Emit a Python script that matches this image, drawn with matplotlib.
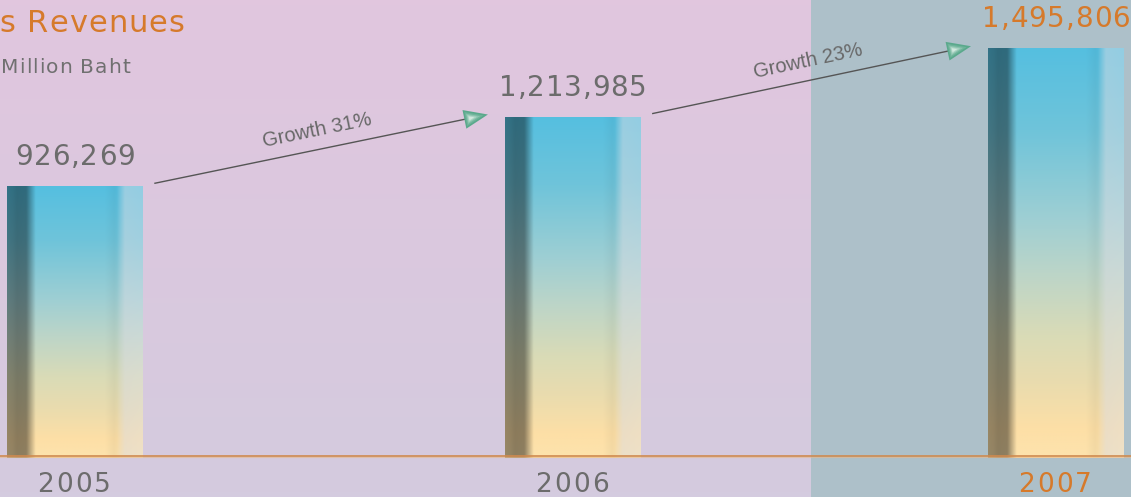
import numpy as np
import matplotlib
matplotlib.use("Agg")
from matplotlib import pyplot as plt
from matplotlib.colors import to_rgb
from matplotlib.lines import Line2D
from matplotlib.patches import Polygon
from matplotlib.transforms import IdentityTransform
from matplotlib.font_manager import findfont, FontProperties
from matplotlib.ft2font import FT2Font

# chart data
years = ["2005", "2006", "2007"]
revenues = [926269, 1213985, 1495806]
title = "s Revenues"
unit_label = "Million Baht"

# colours
bg_top = "#e1c6de"
bg_bottom = "#d4cbdf"
panel_colour = "#adc0c9"
orange = "#d67a2b"
grey_text = "#6c6c6c"
arrow_line = "#555555"
arrow_head = "#5aa98c"
baseline_colour = "#cf8a4f"

# layout
slot = np.array([0.0, 1.015, 2.0])
bar_width = 0.277
floor = -195000      # value the bars grow from
baseline = -186000
DPI = 100
ident = IdentityTransform()


def bar_gradient(nh=240, nw=140):
    # vertical colour profile, top to bottom
    stops = [0.0, 0.2, 0.42, 0.55, 0.7, 0.82, 0.93, 1.0]
    cols = ["#55bfe0", "#6fc4da", "#9fcfd3", "#bcd5c8", "#d9dbb7",
            "#eadcae", "#fddfa6", "#fde3ad"]
    cols = np.array([to_rgb(c) for c in cols])
    v = np.linspace(0, 1, nh)
    column = np.stack([np.interp(v, stops, cols[:, k]) for k in range(3)], axis=1)
    img = np.repeat(column[:, None, :], nw, axis=1)

    u = np.linspace(0, 1, nw)
    # dark strip on the left, faint shadow before the light strip
    shade = np.interp(u, [0, 0.04, 0.07, 0.14, 0.21, 0.72, 0.79, 0.83, 1.0],
                      [0.6, 0.58, 0.55, 0.56, 1.0, 1.0, 0.96, 0.98, 1.0])
    img = img * shade[None, :, None]
    # light strip on the right
    light = np.interp(u, [0, 0.81, 0.87, 1.0], [0, 0, 0.5, 0.45])
    grey = np.array(to_rgb("#dedfe6"))
    img = img * (1 - light[None, :, None]) + grey * light[None, :, None]
    return np.clip(img, 0, 1)


def spaced_text(x, y, s, size, colour, tracking, ha="left", family="DejaVu Sans"):
    # letter-spaced text, x/y in output pixels from bottom-left, y is the baseline
    font = FT2Font(findfont(FontProperties(family=family)))
    font.set_size(size, DPI)
    adv = [font.load_char(ord(c)).linearHoriAdvance / 65536 for c in s]
    width = sum(adv) + tracking * (len(s) - 1)
    if ha == "center":
        x -= width / 2
    elif ha == "right":
        x -= width
    for c, a in zip(s, adv):
        if c != " ":
            fig.text(x, y, c, transform=ident, fontsize=size, color=colour,
                     family=family, va="baseline", ha="left", zorder=5)
        x += a + tracking


fig = plt.figure(figsize=(11.31, 4.97), dpi=DPI)
ax = fig.add_axes([0, 0, 1, 1])
xlim = (-0.153, 2.153)
ylim = (-356000, 1694700)

# background
c0, c1 = np.array(to_rgb(bg_top)), np.array(to_rgb(bg_bottom))
t = np.linspace(0, 1, 100)[:, None]
bg = (c0 * (1 - t) + c1 * t)[:, None, :]
ax.imshow(bg, extent=[xlim[0], xlim[1], ylim[0], ylim[1]], aspect="auto", zorder=0)
ax.axvspan(1.5, xlim[1], color=panel_colour, lw=0, zorder=1)

ax.set_xlim(*xlim)
ax.set_ylim(*ylim)
ax.axis("off")

# bars, filled with the shaded image
heights = np.array(revenues) - floor
bars = ax.bar(slot, heights, bottom=floor, width=bar_width,
              facecolor="none", edgecolor="none", zorder=2)
grad = bar_gradient()
for rect in bars:
    x, y = rect.get_x(), rect.get_y()
    im = ax.imshow(grad, extent=[x, x + rect.get_width(), y, y + rect.get_height()],
                   aspect="auto", zorder=2, interpolation="bilinear")
    im.set_clip_path(rect)
ax.set_xlim(*xlim)
ax.set_ylim(*ylim)

ax.axhline(baseline, color=baseline_colour, lw=1.2, zorder=3)
ax.axhline(baseline - 4000, color="#e8b98a", lw=0.8, alpha=0.6, zorder=3)

# value labels and years
for i, (yr, val) in enumerate(zip(years, revenues)):
    col = orange if i == len(years) - 1 else grey_text
    px, py = ax.transData.transform((slot[i], val))
    spaced_text(px, py + 21, f"{val:,}", 20, col, 0.8, ha="center")
    spaced_text(px - 1, 5, yr, 19, col, 2.0, ha="center")

# growth arrows between bar tops
for i in range(len(revenues) - 1):
    r0, r1 = bars[i], bars[i + 1]
    x0, y0 = ax.transData.transform((r0.get_x() + r0.get_width(), r0.get_y() + r0.get_height()))
    x1, y1 = ax.transData.transform((r1.get_x(), r1.get_y() + r1.get_height()))
    start = np.array([x0 + 12, y0 + 3])
    tip = np.array([x1 - 17, y1 + 2])
    d = tip - start
    u = d / np.hypot(*d)
    n = np.array([-u[1], u[0]])
    base = tip - 24 * u
    ax.add_line(Line2D([start[0], base[0]], [start[1], base[1]], transform=ident,
                       color=arrow_line, lw=1.0, zorder=4))
    corners = np.array([tip, base + 9.5 * n, base - 9.5 * n])
    centre = corners.mean(axis=0) - 2 * u
    hc0, hc1 = np.array(to_rgb(arrow_head)), np.array(to_rgb("#eef8f3"))
    # glossy head: nested triangles getting lighter towards the middle
    for k, s in enumerate([1.0, 0.75, 0.55, 0.38, 0.22]):
        f = k / 4
        ax.add_patch(Polygon(centre + s * (corners - centre), closed=True, transform=ident,
                             facecolor=hc0 * (1 - f) + hc1 * f, edgecolor="none",
                             alpha=1.0 if k == 0 else 0.55, zorder=4))
    pct = round((revenues[i + 1] / revenues[i] - 1) * 100)
    angle = np.degrees(np.arctan2(d[1], d[0]))
    mid = (start + tip) / 2 + 19 * n
    ax.text(mid[0], mid[1], f"Growth {pct}%", transform=ident, rotation=angle,
            rotation_mode="anchor", ha="center", va="center", fontsize=14.5,
            color="#686868", family="Liberation Sans", zorder=4)

# titles
spaced_text(-1, 497 - 32, title, 22, orange, 1.1)
spaced_text(1, 497 - 73, unit_label, 14.5, "#707070", 1.0)

fig.savefig("out.png", dpi=DPI)
